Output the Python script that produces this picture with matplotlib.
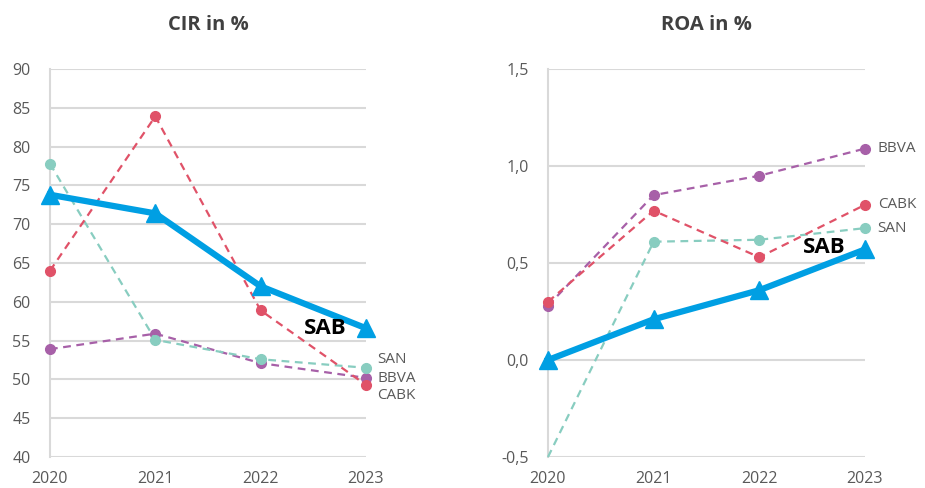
import matplotlib.pyplot as plt
from matplotlib.ticker import FuncFormatter

plt.rcParams['font.family'] = ['Open Sans', 'DejaVu Sans']

years = [2020, 2021, 2022, 2023]

# CIR in %
cir_sab = [73.8, 71.4, 62.0, 56.6]
cir_cabk = [64.0, 83.9, 58.9, 49.3]
cir_san = [77.8, 55.1, 52.6, 51.5]
cir_bbva = [53.9, 55.9, 52.1, 50.2]

# ROA in %
roa_sab = [0.0, 0.21, 0.36, 0.57]
roa_cabk = [0.30, 0.77, 0.53, 0.80]
roa_san = [-0.50, 0.61, 0.62, 0.68]
roa_bbva = [0.28, 0.85, 0.95, 1.09]

c_sab = '#009fe3'
c_cabk = '#e05268'
c_san = '#88cdc0'
c_bbva = '#a760a8'
grid_c = '#d9d9d9'
txt_c = '#595959'

fig = plt.figure(figsize=(9.25, 4.88), dpi=100)
ax1 = fig.add_axes([0.054, 0.0635, 0.3416, 0.795])
ax2 = fig.add_axes([0.5924, 0.0635, 0.3427, 0.795])


def style(ax, ylim, yticks):
    ax.set_xlim(2020, 2023)
    ax.set_ylim(*ylim)
    ax.set_yticks(yticks)
    ax.set_xticks(years)
    ax.grid(axis='y', color=grid_c, lw=1.5)
    ax.set_axisbelow(True)
    for s in ['top', 'right', 'bottom']:
        ax.spines[s].set_visible(False)
    ax.spines['left'].set_color(grid_c)
    ax.spines['left'].set_linewidth(1.5)
    ax.tick_params(length=0, labelsize=11.5, labelcolor=txt_c)
    ax.tick_params(axis='x', pad=10)
    ax.tick_params(axis='y', pad=14)


def series(ax, y, color, lw=1.6, mevery=None):
    ax.plot(years, y, color=color, lw=lw, ls=(0, (3.5, 2.5)), marker='o',
            ms=7, markevery=mevery, clip_on=False, zorder=3)


# CIR
style(ax1, (40, 90), range(40, 91, 5))
series(ax1, cir_bbva, c_bbva)
series(ax1, cir_san, c_san)
series(ax1, cir_cabk, c_cabk)
ax1.plot(years, cir_sab, color=c_sab, lw=4.5, marker='^', ms=13,
         clip_on=False, zorder=4)
ax1.set_title('CIR in %', fontsize=14.5, fontweight='bold', color='#404040', pad=28)
ax1.text(2023 - 0.18, cir_sab[3], 'SAB', fontsize=16, fontweight='bold',
         ha='right', va='center', zorder=5)
ax1.text(2023.11, 52.6, 'SAN', fontsize=11, color=txt_c, va='center')
ax1.text(2023.11, 50.1, 'BBVA', fontsize=11, color=txt_c, va='center')
ax1.text(2023.11, 47.9, 'CABK', fontsize=11, color=txt_c, va='center')

# ROA
style(ax2, (-0.5, 1.5), [-0.5, 0.0, 0.5, 1.0, 1.5])
ax2.yaxis.set_major_formatter(FuncFormatter(lambda v, p: f'{v:.1f}'.replace('.', ',')))
series(ax2, roa_san, c_san, mevery=[1, 2, 3])
series(ax2, roa_bbva, c_bbva)
series(ax2, roa_cabk, c_cabk)
ax2.plot(years, roa_sab, color=c_sab, lw=4.5, marker='^', ms=13,
         clip_on=False, zorder=4)
ax2.set_title('ROA in %', fontsize=14.5, fontweight='bold', color='#404040', pad=28)
ax2.text(2023 - 0.18, roa_sab[3] + 0.01, 'SAB', fontsize=16, fontweight='bold',
         ha='right', va='center', zorder=5)
ax2.text(2023.12, roa_bbva[3], 'BBVA', fontsize=11, color=txt_c, va='center')
ax2.text(2023.12, roa_cabk[3], 'CABK', fontsize=11, color=txt_c, va='center')
ax2.text(2023.12, roa_san[3], 'SAN', fontsize=11, color=txt_c, va='center')

fig.savefig('out.png', dpi=100)
